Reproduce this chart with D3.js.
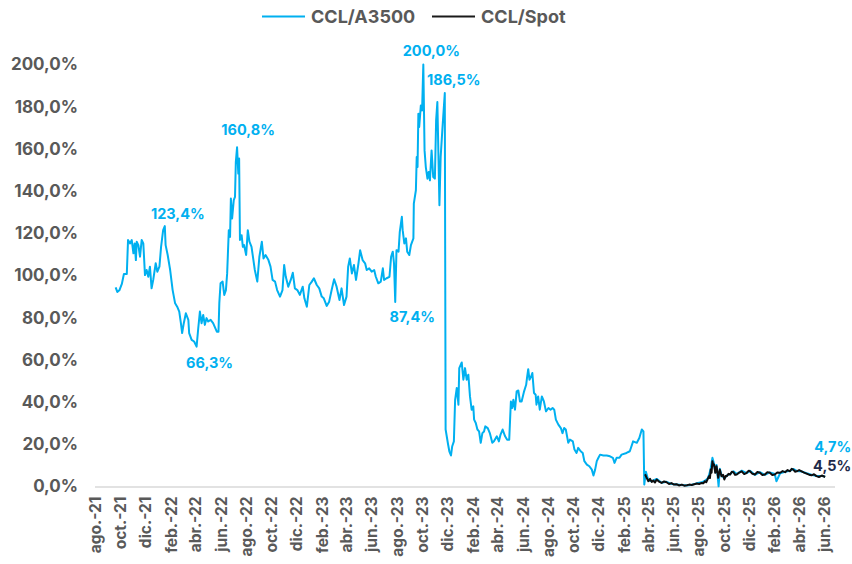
<!DOCTYPE html>
<html><head><meta charset="utf-8">
<script src="https://cdn.jsdelivr.net/npm/d3@7"></script>
<style>
body{margin:0;background:#fff}
svg{display:block}
text{font-family:Inter,"Noto Sans",sans-serif;font-weight:700}
</style>
</head><body>
<svg id="chart" width="852" height="564"></svg>
<script>
// ---------- DATA ----------
const seriesNames = ["CCL/A3500", "CCL/Spot"];

const a3500Dates = [
"2021-09-20","2021-09-24","2021-09-29","2021-10-05","2021-10-10","2021-10-17","2021-10-20","2021-10-25","2021-10-29","2021-11-02",
"2021-11-05","2021-11-08","2021-11-10","2021-11-14","2021-11-18","2021-11-22","2021-11-26","2021-11-30","2021-12-04","2021-12-08",
"2021-12-12","2021-12-16","2021-12-20","2021-12-26","2021-12-30","2022-01-04","2022-01-08","2022-01-13","2022-01-17","2022-01-19",
"2022-01-24","2022-01-30","2022-02-05","2022-02-11","2022-02-16","2022-02-21","2022-02-25","2022-02-28","2022-03-04","2022-03-09",
"2022-03-15","2022-03-17","2022-03-23","2022-03-29","2022-04-04","2022-04-08","2022-04-12","2022-04-16","2022-04-20","2022-04-24",
"2022-04-28","2022-05-02","2022-05-08","2022-05-14","2022-05-23","2022-05-27","2022-05-29","2022-06-01","2022-06-06","2022-06-10",
"2022-06-14","2022-06-17","2022-06-21","2022-06-24","2022-06-26","2022-06-29","2022-07-03","2022-07-06","2022-07-08","2022-07-11",
"2022-07-14","2022-07-16","2022-07-18","2022-07-22","2022-07-25","2022-07-28","2022-08-02","2022-08-06","2022-08-10","2022-08-15",
"2022-08-19","2022-08-23","2022-08-29","2022-09-03","2022-09-09","2022-09-13","2022-09-18","2022-09-25","2022-09-30","2022-10-05",
"2022-10-11","2022-10-16","2022-10-23","2022-10-29","2022-11-02","2022-11-06","2022-11-12","2022-11-18","2022-11-23","2022-11-28",
"2022-12-04","2022-12-10","2022-12-17","2022-12-21","2022-12-27","2023-01-02","2023-01-08","2023-01-13","2023-01-20","2023-01-26",
"2023-02-01","2023-02-06","2023-02-13","2023-02-19","2023-02-25","2023-03-03","2023-03-09","2023-03-16","2023-03-21","2023-03-27",
"2023-04-02","2023-04-06","2023-04-10","2023-04-15","2023-04-20","2023-04-25","2023-05-01","2023-05-05","2023-05-11","2023-05-17",
"2023-05-21","2023-05-27","2023-06-02","2023-06-08","2023-06-12","2023-06-18","2023-06-24","2023-06-29","2023-07-02","2023-07-08",
"2023-07-15","2023-07-19","2023-07-23","2023-07-26","2023-07-29","2023-08-01","2023-08-06","2023-08-09","2023-08-14","2023-08-16",
"2023-08-20","2023-08-24","2023-08-27","2023-09-01","2023-09-05","2023-09-11","2023-09-12","2023-09-17","2023-09-19","2023-09-21",
"2023-09-23","2023-09-25","2023-09-29","2023-10-02","2023-10-05","2023-10-08","2023-10-11","2023-10-15","2023-10-18","2023-10-21",
"2023-10-25","2023-10-29","2023-11-02","2023-11-05","2023-11-08","2023-11-13","2023-11-16","2023-11-20","2023-11-26","2023-11-28",
"2023-12-04","2023-12-07","2023-12-11","2023-12-14","2023-12-18","2023-12-21","2023-12-25","2023-12-29","2023-12-31","2024-01-06",
"2024-01-10","2024-01-14","2024-01-18","2024-01-22","2024-01-26","2024-01-30","2024-02-03","2024-02-05","2024-02-09","2024-02-13",
"2024-02-17","2024-02-21","2024-02-25","2024-02-29","2024-03-03","2024-03-09","2024-03-14","2024-03-20","2024-03-24","2024-03-31",
"2024-04-05","2024-04-09","2024-04-14","2024-04-20","2024-04-25","2024-04-30","2024-05-04","2024-05-07","2024-05-10","2024-05-14",
"2024-05-18","2024-05-22","2024-05-26","2024-05-30","2024-06-05","2024-06-10","2024-06-12","2024-06-15","2024-06-18","2024-06-22",
"2024-06-25","2024-06-29","2024-07-03","2024-07-05","2024-07-09","2024-07-13","2024-07-18","2024-07-23","2024-07-28","2024-08-03",
"2024-08-08","2024-08-13","2024-08-17","2024-08-21","2024-08-27","2024-09-02","2024-09-06","2024-09-10","2024-09-14","2024-09-20",
"2024-09-24","2024-10-01","2024-10-05","2024-10-10","2024-10-14","2024-10-20","2024-10-25","2024-10-29","2024-11-04","2024-11-10",
"2024-11-16","2024-11-20","2024-11-24","2024-11-28","2024-12-02","2024-12-06","2024-12-14","2024-12-22","2024-12-30","2025-01-06",
"2025-01-10","2025-01-15","2025-01-22","2025-01-27","2025-02-08","2025-02-16","2025-02-24","2025-03-05","2025-03-11","2025-03-17",
"2025-03-21","2025-03-23","2025-03-27","2025-04-02","2025-04-10","2025-04-22","2025-05-04","2025-05-16","2025-05-28","2025-06-09",
"2025-06-22","2025-07-04","2025-07-16","2025-07-28","2025-08-09","2025-08-17","2025-08-23","2025-08-27","2025-08-31","2025-09-04",
"2025-09-08","2025-09-11","2025-09-14","2025-09-19","2025-09-22","2025-09-26","2025-10-03","2025-10-09","2025-10-17","2025-10-25",
"2025-11-02","2025-11-14","2025-11-26","2025-12-04","2025-12-16","2025-12-28","2026-01-09","2026-01-21","2026-02-02","2026-02-06",
"2026-02-15","2026-02-27","2026-03-11","2026-03-19","2026-03-27","2026-04-08","2026-04-20","2026-05-02","2026-05-14","2026-05-27",
"2026-06-04"
];
const a3500Values = [
94.4,92.2,93,96,100.7,100.7,116.8,115.2,116.8,110.5,
115.2,107.3,116,114.4,108.9,116.8,115.2,100.2,102.6,99.4,
104.2,93.9,97.9,105.8,101.8,104.2,113.6,121.5,123.4,114.4,
109.7,102.6,93.1,86.8,85.2,82.9,77.4,72.7,77.4,82.1,
79,72.7,69.5,68.7,66.3,75,82.9,77.4,81.3,76.6,
79.8,78.2,79,77.4,73.4,73.4,86.8,96.3,97.1,90.8,
93.1,101,121.5,118.3,136.5,127,135.7,137.3,153.8,160.8,
148.3,155.4,116.8,119.1,113.6,114.4,109.7,121.5,116,113.6,
108.1,102.6,97.1,108.9,116,108.1,109.7,107.3,104.2,97.9,
97.1,93.1,90,93.1,105,99.4,94.7,97.9,101.3,93.9,
93.1,90.8,94.7,89.2,85.2,95.5,97.1,98.7,95.5,93.9,
90,89.2,85.6,87.6,93.1,98.2,94.7,88.4,93.9,86,
90,104.2,108.1,101,105,97.9,105.8,112,107.3,105.8,
102.6,103.4,101.8,102.6,99.4,96.3,97.1,103.4,97.9,98.7,
99.4,108.9,111.3,105.8,87.4,112,111.3,120.7,127.8,121.5,
115.2,117.6,111.3,109.7,114.4,117.6,134.1,140.4,156.2,151.4,
176.7,170.4,180.6,178.2,200,159.3,151.4,145.9,149.1,145.1,
159.3,146.7,145.9,173.5,182.2,133.3,156.2,168.8,186.5,27,
19.9,16.7,14.7,19.1,21.4,41.1,46.7,38.8,56.1,58.8,
50.6,56.1,50.6,53,42.7,36.4,38,31.7,30.1,27,
26.1,20.7,25.3,26.1,28.5,27.7,25.3,20.7,21.4,23.8,
21.4,24.6,27,23.8,22.2,22.2,40.3,37.2,41.1,36.4,
45.1,45.5,40.3,40.3,45.1,48.2,51.4,55.6,50.6,52.1,
53.8,44.3,43.5,38.8,42.7,36.4,42.7,40.3,35.6,37.2,
36.4,37.2,36.4,31.7,29.3,27.7,25.3,27.7,27,20.7,
22.2,21.4,17.5,15.9,18.3,16.7,15.9,12,10.4,9.6,
8,5.2,8,12,13.6,15.1,14.7,14.7,14.3,13.6,
11.2,13.6,13.6,15.1,15.9,16.7,21.4,20.7,23,27,
26.1,0.9,7.0,2.8,2.5,3.6,1.8,2.2,1.2,1.0,
0.7,0.5,0.8,1.5,2.0,2.8,3.6,5.5,8.8,13.6,
10.8,6.8,10.2,0.1,8.4,5.4,3.8,5.3,5.9,7.2,
5.9,7.5,6.3,7.4,5.5,6.8,5.5,6.7,5.9,2.5,
6.3,7.0,7.5,8.3,7.4,7.1,6.3,5.6,5.0,5.0,
4.7
];

const spotDates = [
"2025-03-25","2025-03-29","2025-04-02","2025-04-06","2025-04-10","2025-04-14","2025-04-18","2025-04-22","2025-04-28","2025-05-04",
"2025-05-10","2025-05-16","2025-05-22","2025-05-28","2025-06-03","2025-06-09","2025-06-15","2025-06-22","2025-06-28","2025-07-04",
"2025-07-10","2025-07-16","2025-07-22","2025-07-28","2025-08-03","2025-08-09","2025-08-13","2025-08-17","2025-08-20","2025-08-23",
"2025-08-27","2025-08-29","2025-08-31","2025-09-02","2025-09-04","2025-09-06","2025-09-08","2025-09-11","2025-09-14","2025-09-16",
"2025-09-18","2025-09-22","2025-09-26","2025-09-30","2025-10-03","2025-10-06","2025-10-09","2025-10-13","2025-10-17","2025-10-21",
"2025-10-25","2025-10-29","2025-11-02","2025-11-08","2025-11-14","2025-11-20","2025-11-26","2025-12-01","2025-12-04","2025-12-10",
"2025-12-16","2025-12-22","2025-12-28","2026-01-03","2026-01-09","2026-01-15","2026-01-21","2026-01-27","2026-02-02","2026-02-08",
"2026-02-15","2026-02-21","2026-02-27","2026-03-05","2026-03-11","2026-03-15","2026-03-19","2026-03-23","2026-03-27","2026-04-02",
"2026-04-08","2026-04-14","2026-04-20","2026-04-26","2026-05-02","2026-05-08","2026-05-14","2026-05-20","2026-05-27","2026-06-04"
];
const spotValues = [
5.8,4.0,2.5,3.6,2.2,2.8,1.9,3.3,2.3,1.7,
2.4,2.0,1.2,1.6,0.9,1.1,0.5,0.9,0.4,0.6,
0.9,0.7,1.1,1.4,1.2,1.7,1.5,2.5,2.0,3.3,
4.9,4.0,8.0,6.5,12.0,10.0,10.4,6.5,9.6,7.0,
4.1,8.0,4.9,5.5,3.3,5.0,4.9,6.0,5.7,7.0,
6.8,5.5,5.7,6.6,7.2,5.9,6.5,7.5,7.2,6.0,
5.7,6.9,6.5,5.5,5.7,6.8,6.5,5.5,5.7,6.6,
6.5,7.3,6.8,7.8,7.2,8.4,8.0,7.0,7.2,7.8,
7.2,6.6,6.1,5.6,5.3,5.8,4.9,4.5,5.2,4.5
];

const yTickValues = [0,20,40,60,80,100,120,140,160,180,200];
const xTickDates = [
"2021-08-01","2021-10-01","2021-12-01","2022-02-01","2022-04-01","2022-06-01","2022-08-01","2022-10-01","2022-12-01",
"2023-02-01","2023-04-01","2023-06-01","2023-08-01","2023-10-01","2023-12-01","2024-02-01","2024-04-01","2024-06-01",
"2024-08-01","2024-10-01","2024-12-01","2025-02-01","2025-04-01","2025-06-01","2025-08-01","2025-10-01","2025-12-01",
"2026-02-01","2026-04-01","2026-06-01"
];
const xTickLabels = [
"ago.-21","oct.-21","dic.-21","feb.-22","abr.-22","jun.-22","ago.-22","oct.-22","dic.-22",
"feb.-23","abr.-23","jun.-23","ago.-23","oct.-23","dic.-23","feb.-24","abr.-24","jun.-24",
"ago.-24","oct.-24","dic.-24","feb.-25","abr.-25","jun.-25","ago.-25","oct.-25","dic.-25",
"feb.-26","abr.-26","jun.-26"
];
const annotationDates  = ["2022-01-17","2022-04-04","2022-07-11","2023-07-29","2023-10-05","2023-11-26","2026-06-04","2026-06-04"];
const annotationValues = [123.4,66.3,160.8,87.4,200.0,186.5,4.7,4.5];
const annotationLabels = ["123,4%","66,3%","160,8%","87,4%","200,0%","186,5%","4,7%","4,5%"];

// ---------- STYLE / LAYOUT ----------
const colors = {a3500:"#00B0F0", spot:"#0d0d0d", text:"#595959", navy:"#1F2A4A", axis:"#D9D9D9"};
const parse = d3.timeParse("%Y-%m-%d");
const fmtPct = v => d3.format(".1f")(v).replace(".", ",") + "%";

const x = d3.scaleTime()
  .domain([parse("2021-08-01"), parse("2026-06-23")])
  .range([95, 833]);
const y = d3.scaleLinear().domain([0, 200]).range([486.5, 64.5]);

const svg = d3.select("#chart");

// Y axis labels (no line)
const yAxis = d3.axisLeft(y).tickValues(yTickValues).tickSize(0).tickPadding(0).tickFormat(fmtPct);
const gy = svg.append("g").attr("transform","translate(78,0)").call(yAxis);
gy.select(".domain").remove();
gy.selectAll("text").attr("fill",colors.text).style("font-size","17px").style("font-family","Inter,'Noto Sans',sans-serif").style("font-weight","700");

// X axis baseline + rotated labels
const xAxis = d3.axisBottom(x)
  .tickValues(xTickDates.map(parse))
  .tickSize(0)
  .tickFormat((d,i) => xTickLabels[i]);
const gx = svg.append("g").attr("transform",`translate(0,${y(0)})`).call(xAxis);
gx.select(".domain").attr("stroke",colors.axis).attr("stroke-width",1.5).attr("d","M95,0.5H835");
gx.selectAll(".tick text")
  .attr("fill",colors.text)
  .style("font-size","15.5px")
  .style("font-family","Inter,'Noto Sans',sans-serif")
  .style("font-weight","700")
  .attr("text-anchor","end")
  .attr("y",0).attr("x",0).attr("dy","0.36em")
  .attr("transform","translate(0,10) rotate(-90)");

// Lines
const line = d3.line().x(d => x(d.date)).y(d => y(d.value)).curve(d3.curveLinear);
const a3500 = a3500Dates.map((d,i) => ({date:parse(d), value:a3500Values[i]}));
const spot  = spotDates.map((d,i) => ({date:parse(d), value:spotValues[i]}));

svg.append("path").datum(a3500).attr("d",line)
  .attr("fill","none").attr("stroke",colors.a3500).attr("stroke-width",2).attr("stroke-linejoin","round");
svg.append("path").datum(spot).attr("d",line)
  .attr("fill","none").attr("stroke",colors.spot).attr("stroke-width",2).attr("stroke-linejoin","round");

// Annotations
const annOffsets = [[13,-7],[13,21],[11,-12],[17,20],[8,-9],[9,-8],[26,-25],[26,-6]];
annotationLabels.forEach((lab,i) => {
  const px = x(parse(annotationDates[i])), py = y(annotationValues[i]);
  const isEnd = i >= 6;
  svg.append("text")
    .attr("x", px + annOffsets[i][0]).attr("y", py + annOffsets[i][1])
    .attr("text-anchor", isEnd ? "end" : "middle")
    .attr("fill", i === 7 ? colors.navy : colors.a3500)
    .style("font-size","14.5px")
    .text(lab);
});

// Legend
const legend = svg.append("g");
const legItems = [
  {name:seriesNames[0], color:colors.a3500, x0:262},
  {name:seriesNames[1], color:"#1a1a1a", x0:432}
];
legItems.forEach(it => {
  legend.append("line").attr("x1",it.x0).attr("x2",it.x0+43).attr("y1",16.5).attr("y2",16.5)
    .attr("stroke",it.color).attr("stroke-width",2);
  legend.append("text").attr("x",it.x0+49).attr("y",16.5).attr("dy","0.35em")
    .attr("fill",colors.text).style("font-size","18px").text(it.name);
});
</script>
</body></html>
